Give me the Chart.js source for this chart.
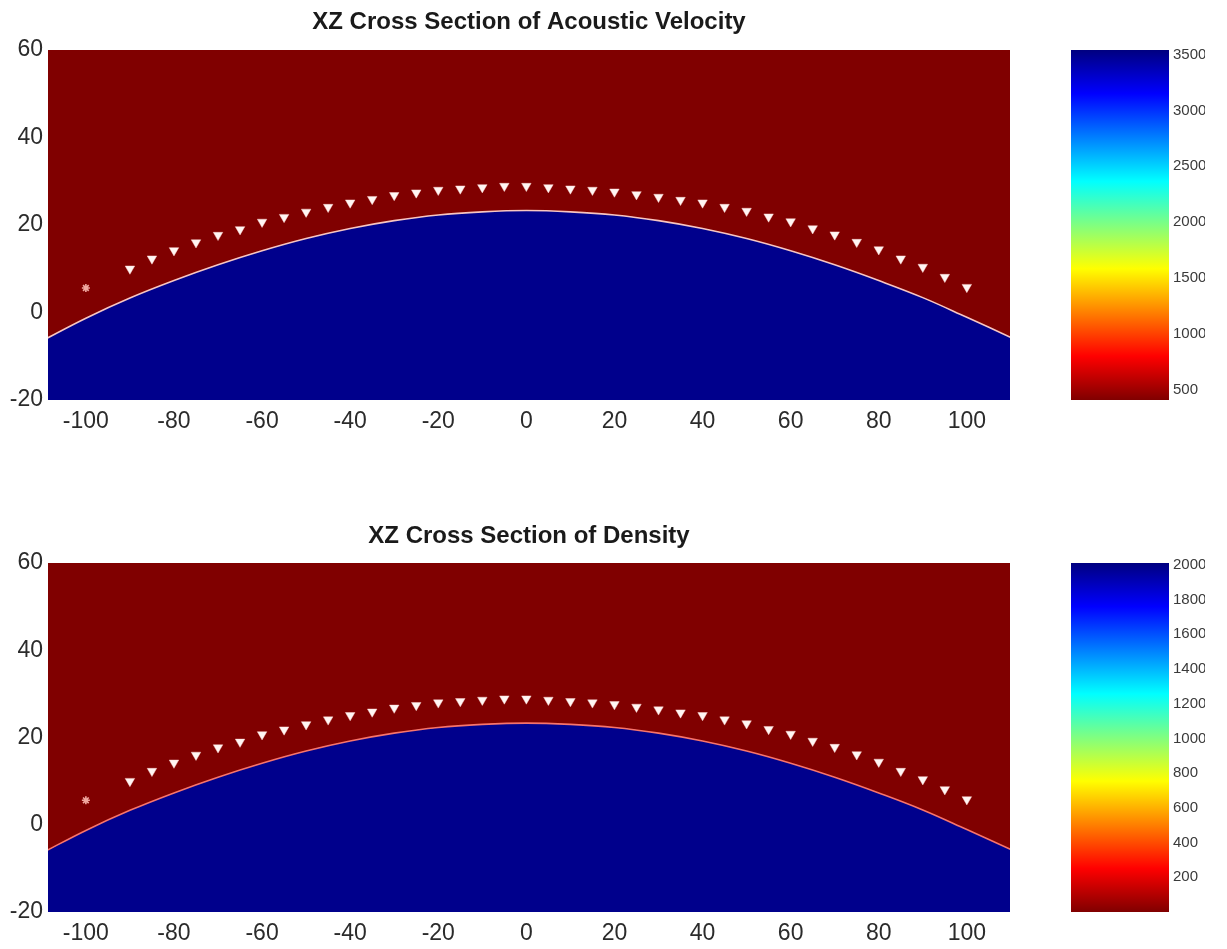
<!DOCTYPE html>
<html>
<head>
<meta charset="utf-8">
<script src="https://cdn.jsdelivr.net/npm/chart.js@4.4.1/dist/chart.umd.min.js"></script>
<style>
  body { margin: 0; background: #fff; width: 1227px; height: 949px; overflow: hidden; position: relative; }
  .box { position: absolute; }
</style>
</head>
<body>
<div class="box" style="left:0;top:0;width:1040px;height:445px"><canvas id="velChart"></canvas></div>
<div class="box" style="left:1060px;top:0;width:145px;height:445px"><canvas id="velBar"></canvas></div>
<div class="box" style="left:0;top:500px;width:1040px;height:449px"><canvas id="denChart"></canvas></div>
<div class="box" style="left:1060px;top:500px;width:145px;height:449px"><canvas id="denBar"></canvas></div>
<script>
// axis ticks
const xTicks = [-100, -80, -60, -40, -20, 0, 20, 40, 60, 80, 100];
const zTicks = [-20, 0, 20, 40, 60];
const xRange = [-108.6, 109.8];
const zRange = [-20, 60];

// interface between the two layers (x, z)
const boundaryX = [-110, -100, -90, -80, -70, -60, -50, -40, -30, -20, -10, 0, 10, 20, 30, 40, 50, 60, 70, 80, 90, 100, 110];
const boundaryZ = [-6.5, -1.3, 3.3, 7.3, 10.9, 14.1, 16.9, 19.2, 21.0, 22.3, 23.0, 23.3, 23.0, 22.3, 21.0, 19.2, 16.9, 14.1, 10.9, 7.3, 3.4, -1.1, -5.7];

// receivers (white triangles)
const receiverX = [-90, -85, -80, -75, -70, -65, -60, -55, -50, -45, -40, -35, -30, -25, -20, -15, -10, -5, 0,
                   5, 10, 15, 20, 25, 30, 35, 40, 45, 50, 55, 60, 65, 70, 75, 80, 85, 90, 95, 100];
const receiverZ = [10.0, 12.3, 14.2, 16.0, 17.7, 19.0, 20.7, 21.8, 23.0, 24.1, 25.1, 25.9, 26.8, 27.4, 28.0, 28.3, 28.6, 28.9, 28.9,
                   28.6, 28.3, 28.0, 27.6, 27.0, 26.4, 25.7, 25.1, 24.1, 23.2, 21.9, 20.8, 19.2, 17.8, 16.1, 14.4, 12.3, 10.4, 8.1, 5.8];

// source
const sourceX = [-100];
const sourceZ = [5.6];

// colour bars
const velRange = [410, 3540];
const velTicks = [500, 1000, 1500, 2000, 2500, 3000, 3500];
const denRange = [0, 2010];
const denTicks = [200, 400, 600, 800, 1000, 1200, 1400, 1600, 1800, 2000];

const FONT = "'Liberation Sans', Arial, Helvetica, sans-serif";
const TEXT = '#2b2b2b';
const DARK_RED = '#800000';
const DARK_BLUE = '#00008c';

function pts(xs, ys) {
    return xs.map((x, i) => ({ x: x, y: ys[i] }));
}

function fixedTicks(list) {
    return function(scale) {
        scale.ticks = list.map(v => ({ value: v }));
    };
}

function makeSection(id, title, lineColor, titlePad, xAxisH) {
    new Chart(document.getElementById(id), {
        type: 'scatter',
        data: {
            datasets: [
                {
                    label: 'source',
                    data: pts(sourceX, sourceZ),
                    pointStyle: 'star',
                    pointRadius: 4,
                    borderColor: '#f0a8a0',
                    backgroundColor: '#f0a8a0',
                    borderWidth: 1.6,
                    order: 0
                },
                {
                    label: 'receivers',
                    data: pts(receiverX, receiverZ),
                    pointStyle: 'triangle',
                    rotation: 180,
                    pointRadius: 5.5,
                    backgroundColor: '#fff6f4',
                    borderColor: 'rgba(255,215,210,0.9)',
                    borderWidth: 0.5,
                    order: 1
                },
                {
                    label: 'upper layer',
                    data: pts(boundaryX, boundaryZ),
                    showLine: true,
                    fill: 'end',
                    backgroundColor: DARK_RED,
                    borderColor: lineColor,
                    borderWidth: 1.6,
                    pointRadius: 0,
                    tension: 0.4,
                    order: 3
                },
                {
                    label: 'lower layer',
                    data: pts(boundaryX, boundaryZ),
                    showLine: true,
                    fill: 'start',
                    backgroundColor: DARK_BLUE,
                    borderWidth: 0,
                    pointRadius: 0,
                    tension: 0.4,
                    order: 4
                }
            ]
        },
        options: {
            responsive: true,
            maintainAspectRatio: false,
            animation: false,
            layout: { padding: { left: 0, right: 30, top: 0, bottom: 0 } },
            plugins: {
                legend: { display: false },
                tooltip: { enabled: false },
                title: {
                    display: true,
                    fullSize: false,
                    text: title,
                    color: '#1a1a1a',
                    font: { family: FONT, size: 24, weight: 'bold', lineHeight: 1.2 },
                    padding: titlePad
                }
            },
            scales: {
                x: {
                    type: 'linear',
                    min: xRange[0],
                    max: xRange[1],
                    afterBuildTicks: fixedTicks(xTicks),
                    afterFit: s => { s.height = xAxisH; },
                    grid: { display: false, drawTicks: false },
                    border: { display: false },
                    ticks: { color: TEXT, padding: 8, font: { family: FONT, size: 23 } }
                },
                y: {
                    type: 'linear',
                    min: zRange[0],
                    max: zRange[1],
                    afterBuildTicks: fixedTicks(zTicks),
                    afterFit: s => { s.width = 48; },
                    grid: { display: false, drawTicks: false },
                    border: { display: false },
                    ticks: { color: TEXT, padding: 5, font: { family: FONT, size: 23 } }
                }
            }
        }
    });
}

// reversed jet colour map, bottom (low) to top (high)
function jetGradient(chart) {
    const area = chart.chartArea;
    if (!area) return DARK_RED;
    const g = chart.ctx.createLinearGradient(0, area.bottom, 0, area.top);
    g.addColorStop(0, '#800000');
    g.addColorStop(0.125, '#ff0000');
    g.addColorStop(0.375, '#ffff00');
    g.addColorStop(0.5, '#80ff80');
    g.addColorStop(0.625, '#00ffff');
    g.addColorStop(0.875, '#0000ff');
    g.addColorStop(1, '#000080');
    return g;
}

function makeColorbar(id, range, ticks, padTop, padBottom) {
    new Chart(document.getElementById(id), {
        type: 'bar',
        data: {
            labels: ['scale'],
            datasets: [{
                data: [[range[0], range[1]]],
                backgroundColor: ctx => jetGradient(ctx.chart),
                borderWidth: 0,
                barPercentage: 1,
                categoryPercentage: 1
            }]
        },
        options: {
            responsive: true,
            maintainAspectRatio: false,
            animation: false,
            layout: { padding: { left: 11, right: 0, top: padTop, bottom: padBottom } },
            plugins: { legend: { display: false }, tooltip: { enabled: false } },
            scales: {
                x: { display: false },
                y: {
                    position: 'right',
                    min: range[0],
                    max: range[1],
                    afterBuildTicks: fixedTicks(ticks),
                    afterFit: s => { s.width = 36; },
                    grid: { display: false, drawTicks: false },
                    border: { display: false },
                    ticks: {
                        color: '#3a3a3a',
                        padding: 4,
                        font: { family: FONT, size: 15 },
                        callback: v => String(v)
                    }
                }
            }
        }
    });
}

makeSection('velChart', 'XZ Cross Section of Acoustic Velocity', 'rgba(255,205,200,0.95)', { top: 8, bottom: 13.2 }, 45);
makeSection('denChart', 'XZ Cross Section of Density', 'rgba(255,120,110,0.95)', { top: 22, bottom: 12.2 }, 37);
makeColorbar('velBar', velRange, velTicks, 50, 45);
makeColorbar('denBar', denRange, denTicks, 63, 37);
</script>
</body>
</html>
